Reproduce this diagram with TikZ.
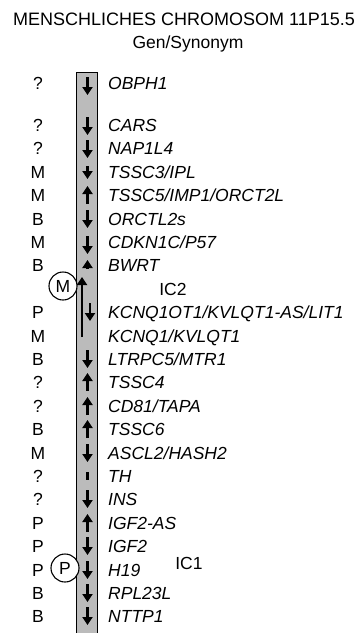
\documentclass[tikz,border=0pt]{standalone}
\usepackage{fontspec}
\setmainfont{Liberation Sans}
\usetikzlibrary{arrows.meta}
\definecolor{bargray}{HTML}{BBBBBB}
\tikzset{
  gene/.style={anchor=west,inner sep=0pt,text height=12.5pt,text depth=0pt,
    font=\fontsize{17.5}{20}\selectfont\itshape},
  origin/.style={inner sep=0pt,text height=12.5pt,text depth=0pt,
    font=\fontsize{17.5}{20}\selectfont},
  dir/.style={line width=2.4pt,-{Triangle[width=10pt,length=8pt]}},
  imprint/.style={circle,draw,line width=1.1pt,fill=white,minimum size=28pt,
    inner sep=0pt,font=\fontsize{17.5}{20}\selectfont}
}
\begin{document}
\begin{tikzpicture}[x=1pt,y=-1pt]
      \useasboundingbox (0,0) rectangle (364,633);
      \node[font=\fontsize{18}{20}\selectfont] (title) at (184,19) {MENSCHLICHES CHROMOSOM 11P15.5};
      \node[font=\fontsize{17.5}{20}\selectfont] (sub) at (188,44) {Gen/Synonym};
      % chromosome bar
      \fill[bargray] (76,72) rectangle (97,633);
      \draw[line width=1pt] (76,633) -- (76,72) -- (97,72) -- (97,633);
      % genes
      \node[gene] (obph) at (108,83) {OBPH1};
      \node[gene] (cars) at (108,125) {CARS};
      \node[gene] (nap) at (108,148) {NAP1L4};
      \node[gene] (tssc3) at (108,172) {TSSC3/IPL};
      \node[gene] (tssc5) at (108,195) {TSSC5/IMP1/ORCT2L};
      \node[gene] (orctl) at (108,219) {ORCTL2s};
      \node[gene] (cdkn) at (108,242) {CDKN1C/P57};
      \node[gene] (bwrt) at (108,265) {BWRT};
      \node[gene] (kcnqot) at (108,312) {KCNQ1OT1/KVLQT1-AS/LIT1};
      \node[gene] (kcnq) at (108,336) {KCNQ1/KVLQT1};
      \node[gene] (ltrpc) at (108,359) {LTRPC5/MTR1};
      \node[gene] (tssc4) at (108,382) {TSSC4};
      \node[gene] (cd) at (108,406) {CD81/TAPA};
      \node[gene] (tssc6) at (108,429) {TSSC6};
      \node[gene] (ascl) at (108,453) {ASCL2/HASH2};
      \node[gene] (th) at (108,476) {TH};
      \node[gene] (ins) at (108,499) {INS};
      \node[gene] (igfas) at (108,523) {IGF2-AS};
      \node[gene] (igf) at (108,546) {IGF2};
      \node[gene] (h19) at (108,570) {H19};
      \node[gene] (rpl) at (108,593) {RPL23L};
      \node[gene] (nttp) at (108,616) {NTTP1};
      % parental origin
      \node[origin] (o-obph) at (38,83) {?};
      \node[origin] (o-cars) at (38,125) {?};
      \node[origin] (o-nap) at (38,148) {?};
      \node[origin] (o-tssc3) at (38,172) {M};
      \node[origin] (o-tssc5) at (38,195) {M};
      \node[origin] (o-orctl) at (38,219) {B};
      \node[origin] (o-cdkn) at (38,242) {M};
      \node[origin] (o-bwrt) at (38,265) {B};
      \node[origin] (o-kcnqot) at (38,312) {P};
      \node[origin] (o-kcnq) at (38,336) {M};
      \node[origin] (o-ltrpc) at (38,359) {B};
      \node[origin] (o-tssc4) at (38,382) {?};
      \node[origin] (o-cd) at (38,406) {?};
      \node[origin] (o-tssc6) at (38,429) {B};
      \node[origin] (o-ascl) at (38,453) {M};
      \node[origin] (o-th) at (38,476) {?};
      \node[origin] (o-ins) at (38,499) {?};
      \node[origin] (o-igfas) at (38,523) {P};
      \node[origin] (o-igf) at (38,546) {P};
      \node[origin] (o-h19) at (38,570) {P};
      \node[origin] (o-rpl) at (38,593) {B};
      \node[origin] (o-nttp) at (38,616) {B};
      % imprinting centres
      \node[imprint] (mcirc) at (63,286) {M};
      \node[imprint] (pcirc) at (65,568) {P};
      \node[origin] (ic2) at (173,289) {IC2};
      \node[origin] (ic1) at (189,563) {IC1};
      \coordinate (mfoot) at (82,337);
      \coordinate (mtip) at (82,277);
      \draw[dir] (mfoot) -- (mtip);
      % transcription direction
      \draw[dir] (87.5,77) -- (87.5,95);
      \draw[dir] (87.5,117) -- (87.5,135);
      \draw[dir] (87.5,140) -- (87.5,158);
      \draw[dir] (87.5,166) -- (87.5,179);
      \draw[dir] (87.5,204) -- (87.5,186);
      \draw[dir] (87.5,210) -- (87.5,228);
      \draw[dir] (87.5,236) -- (87.5,254);
      \draw[dir] (87.5,269) -- (87.5,260);
      \draw[dir] (90,303) -- (90,321);
      \draw[dir] (87.5,350) -- (87.5,368);
      \draw[dir] (87.5,391) -- (87.5,373);
      \draw[dir] (87.5,415) -- (87.5,397);
      \draw[dir] (87.5,438) -- (87.5,420);
      \draw[dir] (87.5,444) -- (87.5,462);
      \draw[line width=2.6pt] (87.5,472) -- (87.5,480);
      \draw[dir] (87.5,490) -- (87.5,508);
      \draw[dir] (87.5,532) -- (87.5,514);
      \draw[dir] (87.5,537) -- (87.5,555);
      \draw[dir] (87.5,561) -- (87.5,579);
      \draw[dir] (87.5,584) -- (87.5,602);
      \draw[dir] (87.5,607) -- (87.5,625);
\end{tikzpicture}
\end{document}
